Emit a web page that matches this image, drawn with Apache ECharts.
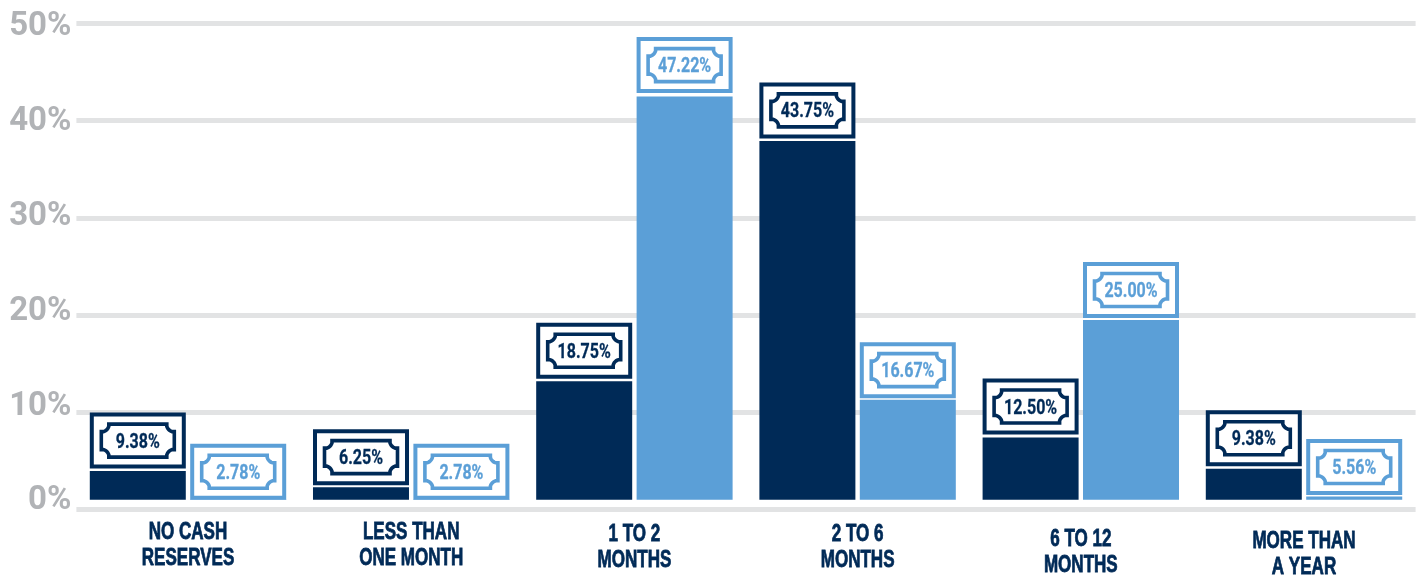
<!DOCTYPE html>
<html><head><meta charset="utf-8">
<style>html,body{margin:0;padding:0;background:#fff}#c{width:1422px;height:578px}</style>
<script src="https://cdn.jsdelivr.net/npm/echarts@6/dist/echarts.min.js"></script>
</head><body><div id="c"></div>
<script>
const categories = ['NO CASH\nRESERVES','LESS THAN\nONE MONTH','1 TO 2\nMONTHS','2 TO 6\nMONTHS','6 TO 12\nMONTHS','MORE THAN\nA YEAR'];
const yTicks = [0,10,20,30,40,50];
// printed values on the bill labels
const darkLabels  = [9.38,6.25,18.75,43.75,12.50,9.38];
const lightLabels = [2.78,2.78,47.22,16.67,25.00,5.56];
// bar tops as drawn in the picture, read against the gridlines
const darkTops  = [3.95,2.3,13.2,37.9,7.4,4.2];
const lightTops = [1.05,1.05,42.5,11.3,19.5,1.33];
const barBase = 1.0;
const NAVY='#002a57', BLUE='#5b9fd7', GREY='#b1b3b6', LINE='#e2e3e4';
const labelDrop=[1,1,3,3,8,10.5];
const darkGap=[2.5,2,2.5,2.7,3,2.5];
const lightGap=[-0.5,-0.5,3.3,1.5,2,1.5];

function plaque(w,h,n,s){
  const tr=[[w-n,-h]],S=6;
  const a0=Math.atan2(s,-n),a1=Math.atan2(n,-s),r=Math.hypot(n,s);
  for(let i=0;i<=S;i++){const a=a0+(a1-a0)*i/S;tr.push([w+r*Math.cos(a),-h+r*Math.sin(a)]);}
  tr.push([w,-h+n]);
  const br=tr.map(([x,y])=>[x,-y]).reverse();
  const bl=tr.map(([x,y])=>[-x,-y]);
  const tl=tr.map(([x,y])=>[-x,y]).reverse();
  return tr.concat(br,bl,tl);
}
function billSeries(name,color,tops,labels,gaps,dir){
  return {
    type:'custom',name,coordinateSystem:'cartesian2d',clip:false,z:5,
    encode:{x:0,y:1},
    data:tops.map((t,i)=>[i,t,labels[i]]),
    renderItem(params,api){
      const p=api.coord([api.value(0),api.value(1)]);
      const W=96,H=56;
      const x=p[0]+dir*50.2, bottom=p[1]-gaps[params.dataIndex];
      const cy=bottom-H/2;
      return {type:'group',x:x,y:cy,children:[
        {type:'rect',shape:{x:-W/2+2,y:-H/2+2,width:W-4,height:H-4},style:{fill:'#fff',stroke:color,lineWidth:4}},
        {type:'polygon',shape:{points:plaque(36.5,16.5,7.5,2.2)},style:{fill:'#fff',stroke:color,lineWidth:3.6}},
        {type:'text',scaleX:0.8,y:2,style:{text:api.value(2).toFixed(2)+'%',x:0,y:0,align:'center',verticalAlign:'middle',
          fill:color,stroke:color,lineWidth:0.3,fontFamily:'Roboto',fontWeight:'bold',fontSize:20}}
      ]};
    }
  };
}
const base={type:'bar',barWidth:96,itemStyle:{color:'transparent'},data:categories.map(()=>barBase),silent:true,z:2};
const chart=echarts.init(document.getElementById('c'),null,{renderer:'canvas'});
chart.setOption({
  animation:false,backgroundColor:'#fff',
  grid:{left:76.4,top:23.5,width:1339.2,height:486,outerBoundsMode:'none'},
  xAxis:{type:'category',data:categories,axisLine:{show:false},axisTick:{show:false},axisLabel:{show:false}},
  yAxis:[
    {type:'value',min:0,max:50,interval:10,axisLabel:{show:false},axisLine:{show:false},axisTick:{show:false},
     splitLine:{show:true,lineStyle:{color:LINE,width:5}}},
    {type:'value',min:-0.89,max:50.37,position:'left',splitLine:{show:false},axisLine:{show:false},axisTick:{show:false},
     axisLabel:{customValues:yTicks,formatter:'{value}%',color:GREY,fontFamily:'Roboto',fontWeight:'bold',fontSize:33,margin:5}}
  ],
  series:[
    Object.assign({},base,{name:'base a',stack:'dark'}),
    {type:'bar',name:'Dark',stack:'dark',barWidth:96,barGap:'4.6%',itemStyle:{color:NAVY},data:darkTops.map(v=>+(v-barBase).toFixed(2)),z:3},
    Object.assign({},base,{name:'base b',stack:'light'}),
    {type:'bar',name:'Light',stack:'light',barWidth:96,barGap:'4.6%',itemStyle:{color:BLUE},data:lightTops.map(v=>+(v-barBase).toFixed(2)),z:3},
    billSeries('Dark labels',NAVY,darkTops,darkLabels,darkGap,-1),
    billSeries('Light labels',BLUE,lightTops,lightLabels,lightGap,1),
    {type:'custom',name:'Category labels',coordinateSystem:'cartesian2d',clip:false,silent:true,z:6,encode:{x:0,y:1},
     data:categories.map((c,i)=>[i,0]),
     renderItem(params,api){
       const p=api.coord([api.value(0),api.value(1)]);
       return {type:'text',x:p[0],y:p[1]+34.5+labelDrop[params.dataIndex],scaleX:0.71,
         style:{text:categories[params.dataIndex],align:'center',verticalAlign:'middle',fill:NAVY,stroke:NAVY,lineWidth:0.8,
           fontFamily:'"Liberation Sans"',fontWeight:'bold',fontSize:24,lineHeight:26}};
     }}
  ]
});
</script></body></html>
